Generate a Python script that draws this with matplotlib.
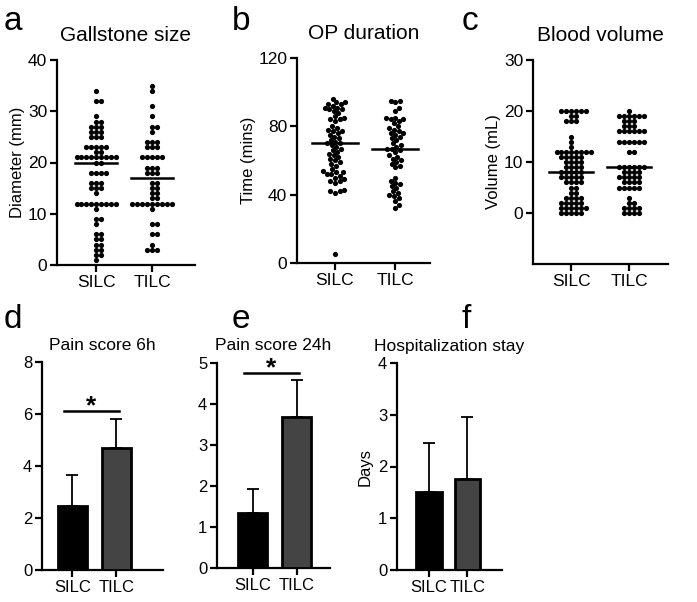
import numpy as np
import matplotlib
matplotlib.use("Agg")
import matplotlib.pyplot as plt

plt.rcParams["font.family"] = ["Liberation Sans", "DejaVu Sans"]

groups = ["SILC", "TILC"]

# a: gallstone size (mm)
size_silc = ([34] + [32] * 2 + [29] + [28] * 2 + [27] * 3 + [26] * 3 + [25] * 3 + [23] * 5
             + [22] * 2 + [21] * 9 + [20] * 2 + [18] * 4 + [16] * 3 + [15] * 3 + [14]
             + [12] * 9 + [11] + [9] * 2 + [8] + [6] * 2 + [5] * 2 + [4] * 2 + [3] * 2
             + [2] * 2 + [1])
size_tilc = ([35, 34, 31, 29] + [27] * 2 + [26] + [24] * 3 + [23] * 3 + [21] * 5 + [19] * 3
             + [18] * 3 + [16] * 2 + [15] * 2 + [14] * 2 + [13] * 2 + [12] * 9 + [11]
             + [8] * 2 + [6] * 2 + [4] + [3] * 3)
size_center = [20, 17]

# b: OP duration (mins)
time_silc = [96, 94, 94, 93, 93, 92, 91, 91, 90, 90, 89, 88, 86, 85, 84, 84, 83, 80, 79, 78,
             77, 77, 76, 75, 74, 73, 72, 71, 70, 70, 69, 68, 67, 66, 65, 64, 63, 62, 61, 60,
             59, 58, 57, 55, 54, 53, 53, 52, 52, 51, 50, 49, 48, 48, 47, 43, 42, 42, 41, 5]
time_tilc = [95, 95, 94, 91, 89, 85, 85, 84, 84, 83, 82, 80, 79, 78, 77, 76, 76, 75, 74, 73,
             72, 70, 69, 68, 67, 67, 66, 65, 63, 62, 61, 60, 59, 58, 57, 56, 50, 48, 47, 46,
             45, 44, 42, 41, 40, 39, 38, 36, 34, 32]
time_center = [70, 67]

# c: blood volume (mL)
vol_silc = ([20] * 6 + [19] * 2 + [18] * 3 + [15, 14, 13] + [12] * 8 + [11] * 5 + [10] * 4
            + [9] * 4 + [8] * 5 + [7] * 5 + [6] * 4 + [5] * 2 + [4] * 2 + [3] * 4 + [2] * 5
            + [1] * 6 + [0] * 5)
vol_tilc = ([20] + [19] * 6 + [18] * 3 + [17] * 3 + [16] * 6 + [14] * 6 + [12] * 2 + [9] * 6
            + [8] * 4 + [7] * 5 + [6] * 4 + [5] * 5 + [3] + [2] * 2 + [1] * 4 + [0] * 4)
vol_center = [8, 9]

# d-f: bar charts, mean and upper SD
pain6_mean = [2.45, 4.7]
pain6_sd = [1.2, 1.1]
pain24_mean = [1.35, 3.68]
pain24_sd = [0.58, 0.9]
stay_mean = [1.5, 1.75]
stay_sd = [0.95, 1.2]

W, H = 697, 602
fig = plt.figure(figsize=(W / 100, H / 100), dpi=100)


def add_axes(left, right, top, bottom):
    return fig.add_axes([left / W, 1 - bottom / H, (right - left) / W, (bottom - top) / H])


def style(ax, yticks, xlim, ylim, tick_fs):
    for s in ["top", "right"]:
        ax.spines[s].set_visible(False)
    for s in ["left", "bottom"]:
        ax.spines[s].set_linewidth(1.6)
    ax.set_xlim(*xlim)
    ax.set_ylim(*ylim)
    ax.set_yticks(yticks)
    ax.set_xticks([0, 1])
    ax.set_xticklabels(groups)
    ax.tick_params(width=1.6, length=5, labelsize=tick_fs, pad=2)


def swarm(values, center, xpx, ypx, diam=4.9):
    vals = np.asarray(values, dtype=float)
    xs = np.zeros(len(vals))
    placed = []
    for i in np.argsort(vals):
        y = vals[i] * ypx
        near = [(px, py) for px, py in placed if abs(py - y) < diam]
        cands = [0.0]
        for px, py in near:
            dx = np.sqrt(diam ** 2 - (py - y) ** 2)
            cands += [px + dx, px - dx]
        cands.sort(key=abs)
        for c in cands:
            if all((c - px) ** 2 + (y - py) ** 2 >= diam ** 2 - 1e-6 for px, py in near):
                break
        placed.append((c, y))
        xs[i] = center + c / xpx
    return xs


def scatter_panel(box, data, centers, xlim, ylim, yticks, title, ylabel, letter, lx):
    ax = add_axes(*box)
    style(ax, yticks, xlim, ylim, 12.5)
    xpx = (box[1] - box[0]) / (xlim[1] - xlim[0])
    ypx = (box[3] - box[2]) / (ylim[1] - ylim[0])
    for k, vals in enumerate(data):
        xs = swarm(vals, k, xpx, ypx)
        ax.scatter(xs, vals, s=14, color="black", linewidths=0, zorder=3)
        ax.plot([k - 0.38, k + 0.38], [centers[k]] * 2, color="black", lw=1.8, zorder=4)
    ax.set_title(title, fontsize=15, pad=14)
    ax.set_ylabel(ylabel, fontsize=12, labelpad=2)
    fig.text(lx / W, 1 - 30 / H, letter, fontsize=24, va="baseline")
    return ax


def bar_panel(box, means, sds, xlim, ylim, yticks, title, letter, lx, ylabel=None, sig=None):
    ax = add_axes(*box)
    style(ax, yticks, xlim, ylim, 12)
    x = np.arange(len(means))
    ax.errorbar(x, means, yerr=[np.zeros(len(sds)), sds], fmt="none", ecolor="black",
                elinewidth=1.3, capsize=4.5, capthick=1.3, zorder=2)
    ax.bar(x, means, width=0.66, color=["black", "#444444"], edgecolor="black",
           linewidth=2, zorder=3)
    if sig is not None:
        ax.plot([-0.2, 1.06], [sig, sig], color="black", lw=1.8, clip_on=False)
        ax.annotate("*", (0.43, sig), xytext=(0, -1.5), textcoords="offset points",
                    ha="center", va="baseline", fontsize=19, fontweight="bold",
                    annotation_clip=False)
    ax.set_title(title, fontsize=12.5, pad=9)
    if ylabel:
        ax.set_ylabel(ylabel, fontsize=12, labelpad=4)
    fig.text(lx / W, 1 - 328 / H, letter, fontsize=24, va="baseline")
    return ax


scatter_panel((57, 195, 60, 265), [size_silc, size_tilc], size_center, (-0.70, 1.77), (0, 40),
              [0, 10, 20, 30, 40], "Gallstone size", "Diameter (mm)", "a", 4)
scatter_panel((297, 430, 58, 263), [time_silc, time_tilc], time_center, (-0.63, 1.58), (0, 120),
              [0, 40, 80, 120], "OP duration", "Time (mins)", "b", 232)
scatter_panel((533, 668, 60, 264), [vol_silc, vol_tilc], vol_center, (-0.66, 1.67), (-10, 30),
              [0, 10, 20, 30], "Blood volume", "Volume (mL)", "c", 462)

bar_panel((42, 163, 362, 570), pain6_mean, pain6_sd, (-0.69, 2.06), (0, 8), [0, 2, 4, 6, 8],
          "Pain score 6h", "d", 4, sig=6.12)
bar_panel((217, 330, 363, 568), pain24_mean, pain24_sd, (-0.81, 1.76), (0, 5),
          [0, 1, 2, 3, 4, 5], "Pain score 24h", "e", 232, sig=4.76)
bar_panel((397, 502, 363, 570), stay_mean, stay_sd, (-0.83, 1.9), (0, 4), [0, 1, 2, 3, 4],
          "Hospitalization stay", "f", 462, ylabel="Days")

fig.savefig("out.png", dpi=100)
